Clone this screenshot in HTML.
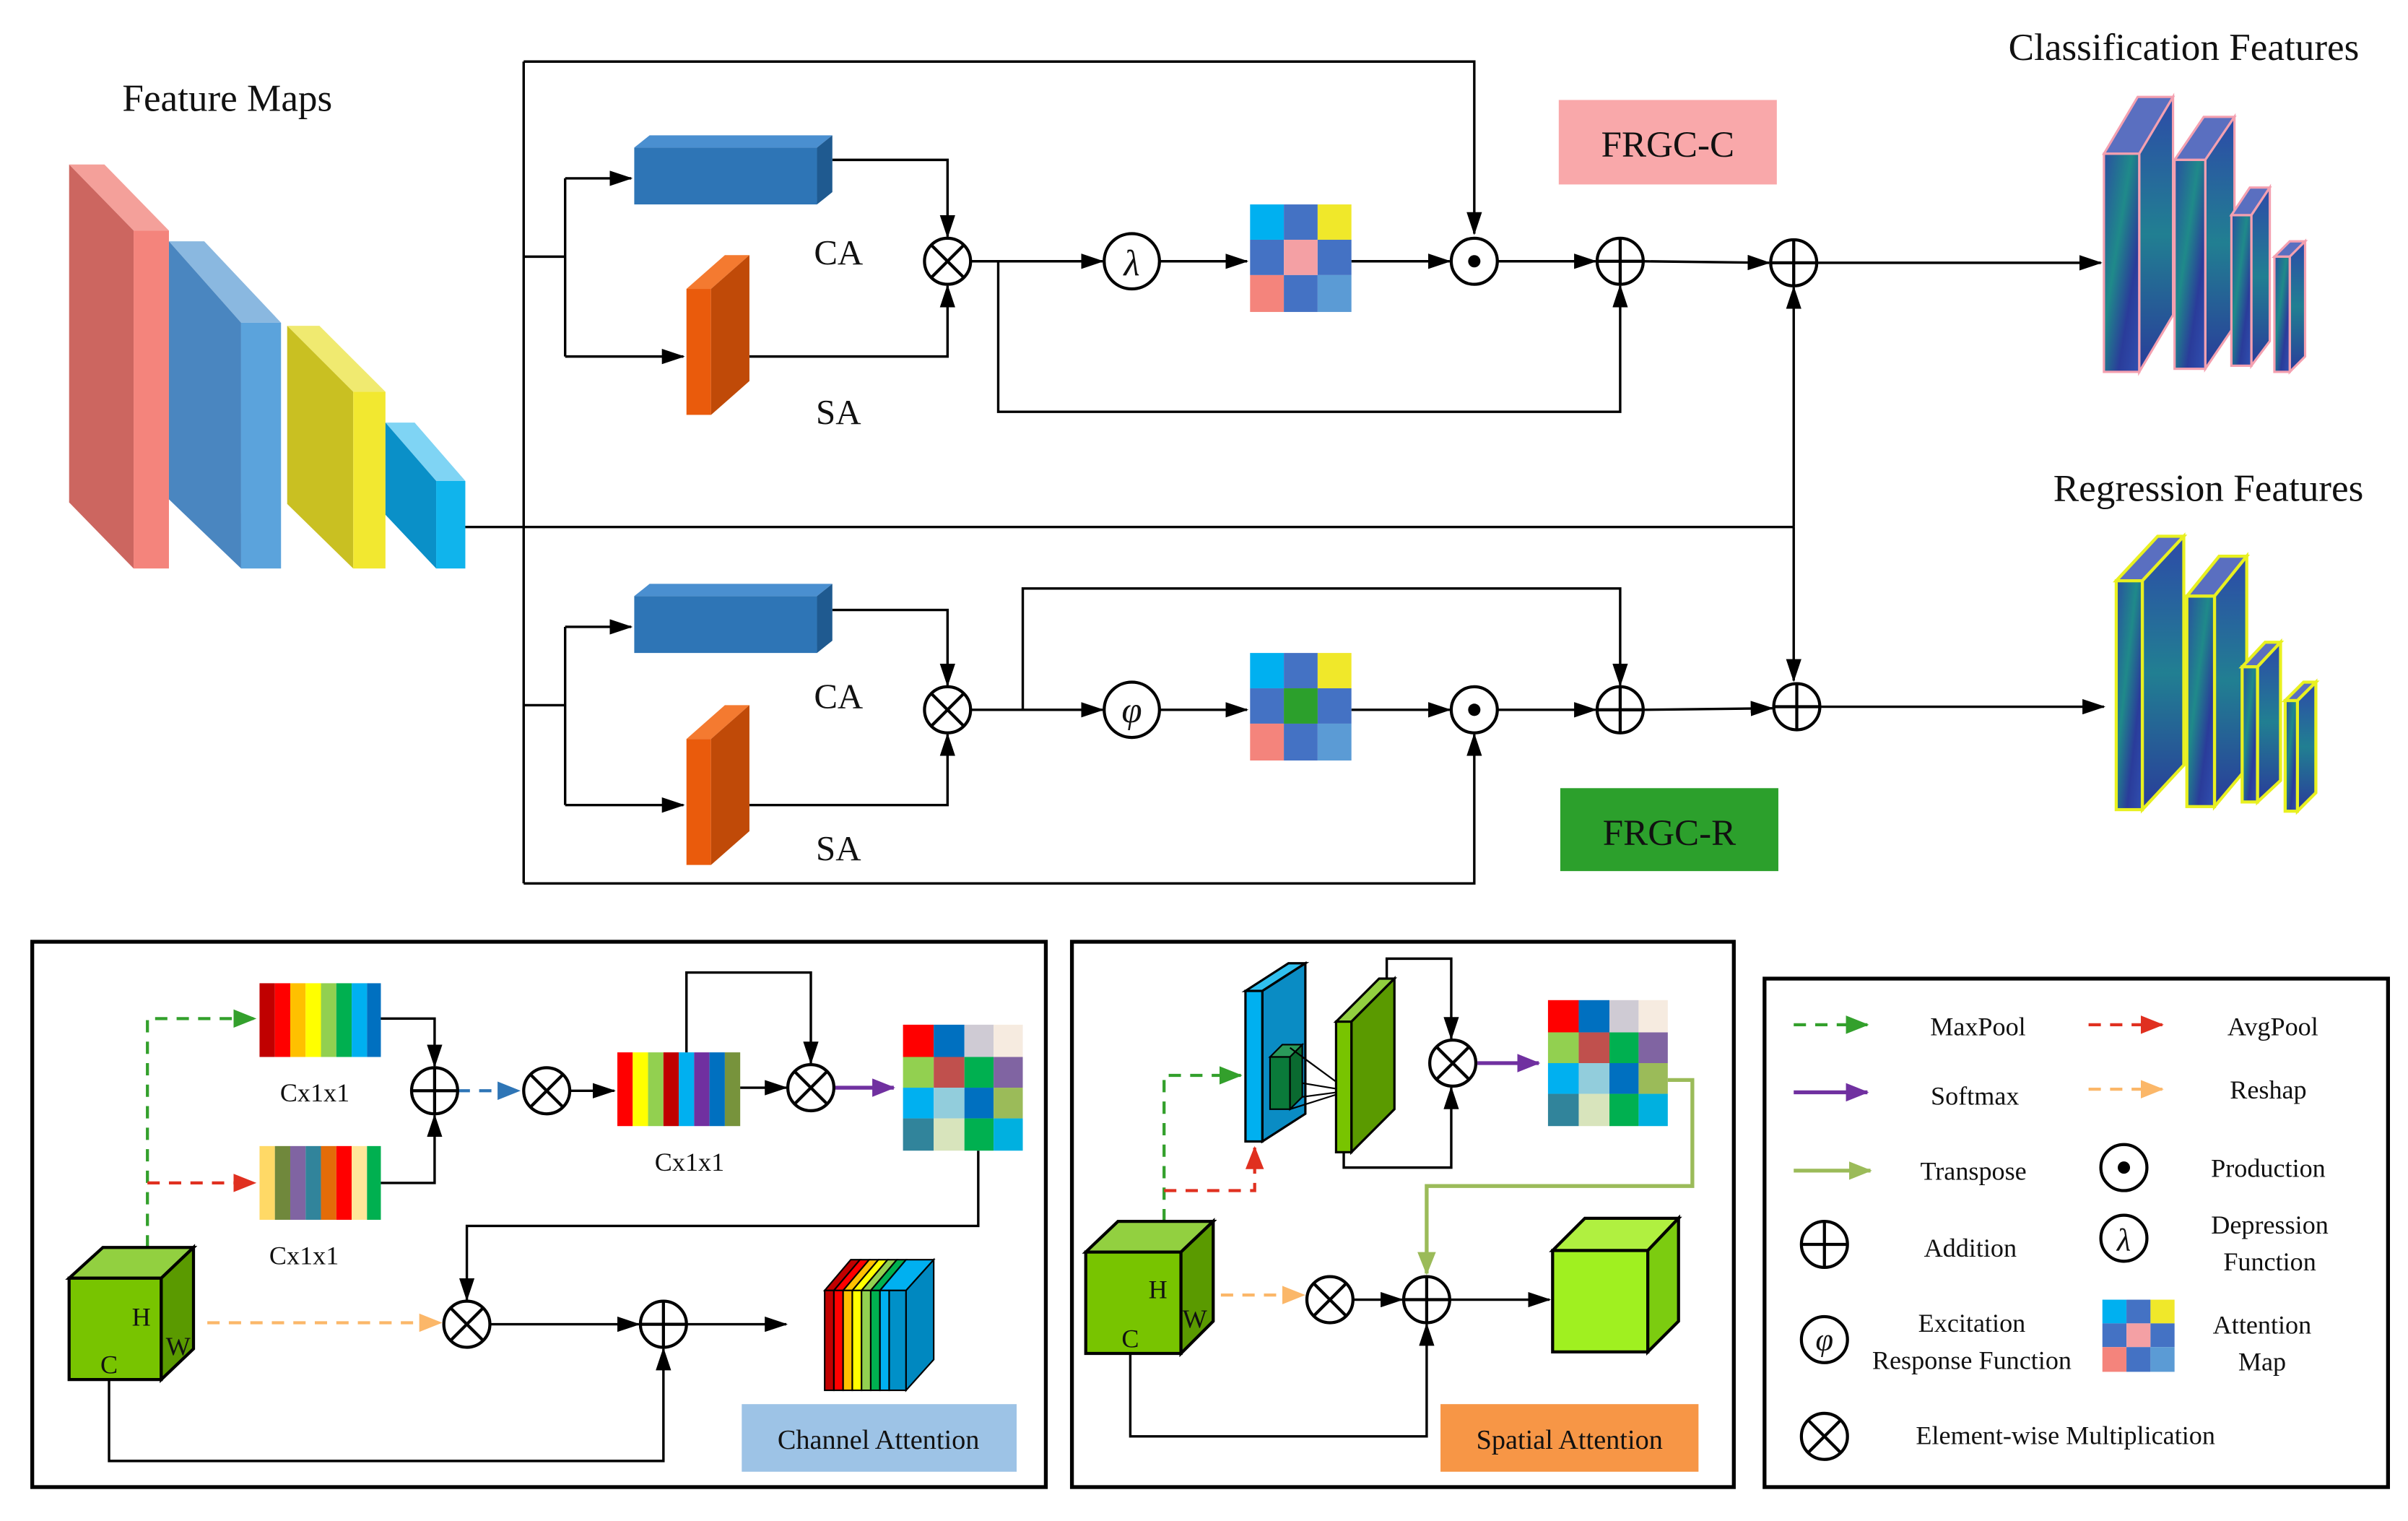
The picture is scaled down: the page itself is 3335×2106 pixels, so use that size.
<!DOCTYPE html>
<html><head><meta charset="utf-8"><style>html,body{margin:0;padding:0;background:#fff}svg{display:block}text{font-family:"Liberation Serif",serif;fill:#111}</style></head>
<body>
<svg width="3335" height="2106" viewBox="0 0 1568 990" xmlns="http://www.w3.org/2000/svg">
<defs>
<marker id="a" markerUnits="userSpaceOnUse" markerWidth="16" markerHeight="10" refX="14" refY="5" orient="auto"><path d="M0,0 L15,5 L0,10 z" fill="#000"/></marker>
<marker id="ag" markerUnits="userSpaceOnUse" markerWidth="16" markerHeight="12" refX="14" refY="6" orient="auto"><path d="M0,0 L15,6 L0,12 z" fill="#33a02c"/></marker>
<marker id="ar" markerUnits="userSpaceOnUse" markerWidth="16" markerHeight="12" refX="14" refY="6" orient="auto"><path d="M0,0 L15,6 L0,12 z" fill="#e03020"/></marker>
<marker id="ap" markerUnits="userSpaceOnUse" markerWidth="16" markerHeight="12" refX="14" refY="6" orient="auto"><path d="M0,0 L15,6 L0,12 z" fill="#7030a0"/></marker>
<marker id="ao" markerUnits="userSpaceOnUse" markerWidth="16" markerHeight="12" refX="14" refY="6" orient="auto"><path d="M0,0 L15,6 L0,12 z" fill="#fbb769"/></marker>
<marker id="ab" markerUnits="userSpaceOnUse" markerWidth="16" markerHeight="12" refX="14" refY="6" orient="auto"><path d="M0,0 L15,6 L0,12 z" fill="#2e75b6"/></marker>
<marker id="al" markerUnits="userSpaceOnUse" markerWidth="16" markerHeight="12" refX="14" refY="6" orient="auto"><path d="M0,0 L15,6 L0,12 z" fill="#9bbb59"/></marker>
<g id="ot"><circle r="15" fill="#fff" stroke="#000" stroke-width="2"/><path d="M-10.6,-10.6L10.6,10.6M-10.6,10.6L10.6,-10.6" stroke="#000" stroke-width="2"/></g>
<g id="op"><circle r="15" fill="#fff" stroke="#000" stroke-width="2"/><path d="M-15,0H15M0,-15V15" stroke="#000" stroke-width="2"/></g>
<g id="od"><circle r="15" fill="#fff" stroke="#000" stroke-width="2"/><circle r="4" fill="#000"/></g>
<g id="m3"><rect x="0" y="0" width="22" height="23" fill="#00b0f0"/><rect x="22" y="0" width="22" height="23" fill="#4472c4"/><rect x="44" y="0" width="22" height="23" fill="#f0e82a"/><rect x="0" y="23" width="22" height="23" fill="#4472c4"/><rect x="22" y="23" width="22" height="23" fill="#f4a0a4"/><rect x="44" y="23" width="22" height="23" fill="#4472c4"/><rect x="0" y="46" width="22" height="24" fill="#f4847c"/><rect x="22" y="46" width="22" height="24" fill="#4472c4"/><rect x="44" y="46" width="22" height="24" fill="#5b9bd5"/></g>
<g id="m3g"><use href="#m3"/><rect x="22" y="23" width="22" height="23" fill="#2ca02c"/></g>
<g id="m4"><rect x="0" y="0" width="20" height="21" fill="#ff0000"/><rect x="20" y="0" width="20" height="21" fill="#0070c0"/><rect x="40" y="0" width="19" height="21" fill="#cfcbd4"/><rect x="59" y="0" width="19" height="21" fill="#f6ebe0"/><rect x="0" y="21" width="20" height="20" fill="#92d050"/><rect x="20" y="21" width="20" height="20" fill="#c0504d"/><rect x="40" y="21" width="19" height="20" fill="#00b050"/><rect x="59" y="21" width="19" height="20" fill="#8064a2"/><rect x="0" y="41" width="20" height="20" fill="#00b0f0"/><rect x="20" y="41" width="20" height="20" fill="#92cddc"/><rect x="40" y="41" width="19" height="20" fill="#0070c0"/><rect x="59" y="41" width="19" height="20" fill="#9bbb59"/><rect x="0" y="61" width="20" height="21" fill="#31849b"/><rect x="20" y="61" width="20" height="21" fill="#d8e4bc"/><rect x="40" y="61" width="19" height="21" fill="#00b050"/><rect x="59" y="61" width="19" height="21" fill="#00b0e0"/></g>
<linearGradient id="fm" x1="0" y1="0" x2="1" y2="1"><stop offset="0" stop-color="#2a4fa0"/><stop offset="0.4" stop-color="#1f8a8a"/><stop offset="0.7" stop-color="#2a3c9a"/><stop offset="1" stop-color="#3050b0"/></linearGradient>
<linearGradient id="fm2" x1="0" y1="0" x2="0" y2="1"><stop offset="0" stop-color="#2d4aa8"/><stop offset="0.5" stop-color="#217f92"/><stop offset="1" stop-color="#2a3c9a"/></linearGradient>
</defs>

<text x="148" y="72" font-size="25" text-anchor="middle">Feature Maps</text>
<text x="1422" y="39" font-size="25" text-anchor="middle">Classification Features</text>
<text x="1438" y="326" font-size="25" text-anchor="middle">Regression Features</text>

<polygon points="45,107 68,107 110,150 87,150" fill="#f4a09a"/>
<polygon points="45,107 87,150 87,370 45,327" fill="#cc6660"/>
<rect x="87" y="150" width="23" height="220" fill="#f4847c"/>
<polygon points="110,157 133,157 183,210 157,210" fill="#8ab8e0"/>
<polygon points="110,157 157,210 157,370 110,325" fill="#4a86c0"/>
<rect x="157" y="210" width="26" height="160" fill="#5ba3dc"/>
<polygon points="187,212 208,212 251,255 230,255" fill="#f0ea70"/>
<polygon points="187,212 230,255 230,370 187,328" fill="#c9c022"/>
<rect x="230" y="255" width="21" height="115" fill="#f2e830"/>
<polygon points="251,275 270,275 303,313 284,313" fill="#7fd4f4"/>
<polygon points="251,275 284,313 284,370 251,335" fill="#0a90c8"/>
<rect x="284" y="313" width="19" height="57" fill="#10b4ec"/>

<g fill="none" stroke="#000" stroke-width="1.6">
<path d="M303,343H1168"/>
<path d="M341,40V575"/>
<path d="M341,40H960V152" marker-end="url(#a)"/>
<path d="M341,575H960V478" marker-end="url(#a)"/>
<path d="M341,167H368"/><path d="M368,116V232"/>
<path d="M368,116H411" marker-end="url(#a)"/>
<path d="M368,232H445" marker-end="url(#a)"/>
<path d="M542,104H617V154" marker-end="url(#a)"/>
<path d="M488,232H617V186" marker-end="url(#a)"/>
<path d="M632,170H718" marker-end="url(#a)"/>
<path d="M650,170V268H1055V186" marker-end="url(#a)"/>
<path d="M755,170H812" marker-end="url(#a)"/>
<path d="M880,170H944" marker-end="url(#a)"/>
<path d="M975,170H1039" marker-end="url(#a)"/>
<path d="M1070,170L1152,171" marker-end="url(#a)"/>
<path d="M1183,171H1368" marker-end="url(#a)"/>
<path d="M1168,343V187" marker-end="url(#a)"/>
<path d="M1168,343V443" marker-end="url(#a)"/>
<path d="M341,459H368"/><path d="M368,408V524"/>
<path d="M368,408H411" marker-end="url(#a)"/>
<path d="M368,524H445" marker-end="url(#a)"/>
<path d="M542,397H617V446" marker-end="url(#a)"/>
<path d="M488,524H617V478" marker-end="url(#a)"/>
<path d="M632,462H718" marker-end="url(#a)"/>
<path d="M666,462V383H1055V446" marker-end="url(#a)"/>
<path d="M755,462H812" marker-end="url(#a)"/>
<path d="M880,462H944" marker-end="url(#a)"/>
<path d="M975,462H1039" marker-end="url(#a)"/>
<path d="M1070,462L1154,461" marker-end="url(#a)"/>
<path d="M1185,460H1370" marker-end="url(#a)"/>
</g>

<polygon points="413,96 423,88 542,88 532,96" fill="#4a8fd0"/>
<rect x="413" y="96" width="119" height="37" fill="#2e75b6"/>
<polygon points="532,96 542,88 542,125 532,133" fill="#1f5a90"/>
<polygon points="447,188 472,166 488,166 463,188" fill="#f47a30"/>
<rect x="447" y="188" width="16" height="82" fill="#ea5b0c"/>
<polygon points="463,188 488,166 488,248 463,270" fill="#c04a08"/>
<text x="546" y="172" font-size="23" text-anchor="middle">CA</text>
<text x="546" y="276" font-size="23" text-anchor="middle">SA</text>
<polygon points="413,388 423,380 542,380 532,388" fill="#4a8fd0"/>
<rect x="413" y="388" width="119" height="37" fill="#2e75b6"/>
<polygon points="532,388 542,380 542,417 532,425" fill="#1f5a90"/>
<polygon points="447,481 472,459 488,459 463,481" fill="#f47a30"/>
<rect x="447" y="481" width="16" height="82" fill="#ea5b0c"/>
<polygon points="463,481 488,459 488,541 463,563" fill="#c04a08"/>
<text x="546" y="461" font-size="23" text-anchor="middle">CA</text>
<text x="546" y="560" font-size="23" text-anchor="middle">SA</text>

<use href="#ot" x="617" y="170"/><use href="#ot" x="617" y="462"/>
<circle cx="737" cy="170" r="18" fill="#fff" stroke="#000" stroke-width="2"/>
<text x="737" y="179" font-size="24" font-style="italic" text-anchor="middle">λ</text>
<circle cx="737" cy="462" r="18" fill="#fff" stroke="#000" stroke-width="2"/>
<text x="737" y="470" font-size="24" font-style="italic" text-anchor="middle">φ</text>
<use href="#m3" x="814" y="133"/><use href="#m3g" x="814" y="425"/>
<use href="#od" x="960" y="170"/><use href="#od" x="960" y="462"/>
<use href="#op" x="1055" y="170"/><use href="#op" x="1055" y="462"/>
<use href="#op" x="1168" y="171"/><use href="#op" x="1170" y="460"/>

<rect x="1015" y="65" width="142" height="55" fill="#f9a8aa"/>
<text x="1086" y="102" font-size="24" text-anchor="middle">FRGC-C</text>
<rect x="1016" y="513" width="142" height="54" fill="#2ca02c"/>
<text x="1087" y="550" font-size="24" text-anchor="middle">FRGC-R</text>

<g stroke="#f4a0b0" stroke-width="1.5">
<polygon points="1370,100 1393,100 1415,63 1392,63" fill="#5a6fc0"/><polygon points="1393,100 1415,63 1415,205 1393,242" fill="url(#fm2)"/><rect x="1370" y="100" width="23" height="142" fill="url(#fm)"/>
<polygon points="1416,104 1436,104 1455,76 1435,76" fill="#5a6fc0"/><polygon points="1436,104 1455,76 1455,212 1436,240" fill="url(#fm2)"/><rect x="1416" y="104" width="20" height="136" fill="url(#fm)"/>
<polygon points="1453,140 1466,140 1478,122 1465,122" fill="#5a6fc0"/><polygon points="1466,140 1478,122 1478,222 1466,238" fill="url(#fm2)"/><rect x="1453" y="140" width="13" height="98" fill="url(#fm)"/>
<polygon points="1481,167 1491,167 1501,157 1491,157" fill="#5a6fc0"/><polygon points="1491,167 1501,157 1501,232 1491,242" fill="url(#fm2)"/><rect x="1481" y="167" width="10" height="75" fill="url(#fm)"/>
</g>
<g stroke="#e8f020" stroke-width="2">
<polygon points="1378,378 1395,378 1422,349 1405,349" fill="#5a6fc0"/><polygon points="1395,378 1422,349 1422,498 1395,527" fill="url(#fm2)"/><rect x="1378" y="378" width="17" height="149" fill="url(#fm)"/>
<polygon points="1424,388 1442,388 1463,362 1445,362" fill="#5a6fc0"/><polygon points="1442,388 1463,362 1463,500 1442,525" fill="url(#fm2)"/><rect x="1424" y="388" width="18" height="137" fill="url(#fm)"/>
<polygon points="1460,434 1470,434 1485,418 1475,418" fill="#5a6fc0"/><polygon points="1470,434 1485,418 1485,508 1470,522" fill="url(#fm2)"/><rect x="1460" y="434" width="10" height="88" fill="url(#fm)"/>
<polygon points="1488,456 1496,456 1508,444 1500,444" fill="#5a6fc0"/><polygon points="1496,456 1508,444 1508,516 1496,528" fill="url(#fm2)"/><rect x="1488" y="456" width="8" height="72" fill="url(#fm)"/>
</g>

<rect x="21" y="613" width="660" height="355" fill="none" stroke="#000" stroke-width="2.5"/>
<g fill="none" stroke-width="2" stroke-dasharray="8,6">
<path d="M96,812V663H166" stroke="#33a02c" marker-end="url(#ag)"/>
<path d="M96,770H166" stroke="#e03020" marker-end="url(#ar)"/>
<path d="M298,710H338" stroke="#2e75b6" marker-end="url(#ab)"/>
<path d="M135,861H287" stroke="#fbb769" marker-end="url(#ao)"/>
</g>
<g>
<rect x="169" y="640" width="10" height="48" fill="#c00000"/><rect x="179" y="640" width="10" height="48" fill="#ff0000"/><rect x="189" y="640" width="10" height="48" fill="#ffc000"/><rect x="199" y="640" width="10" height="48" fill="#ffff00"/><rect x="209" y="640" width="10" height="48" fill="#92d050"/><rect x="219" y="640" width="10" height="48" fill="#00b050"/><rect x="229" y="640" width="10" height="48" fill="#00b0f0"/><rect x="239" y="640" width="9" height="48" fill="#0070c0"/>
<rect x="169" y="746" width="10" height="48" fill="#ffd966"/><rect x="179" y="746" width="10" height="48" fill="#70883c"/><rect x="189" y="746" width="10" height="48" fill="#8064a2"/><rect x="199" y="746" width="10" height="48" fill="#31849b"/><rect x="209" y="746" width="10" height="48" fill="#e36c09"/><rect x="219" y="746" width="10" height="48" fill="#ff0000"/><rect x="229" y="746" width="10" height="48" fill="#ffe699"/><rect x="239" y="746" width="9" height="48" fill="#00b050"/>
<rect x="402" y="685" width="10" height="48" fill="#ff0000"/><rect x="412" y="685" width="10" height="48" fill="#ffff00"/><rect x="422" y="685" width="10" height="48" fill="#92d050"/><rect x="432" y="685" width="10" height="48" fill="#c00000"/><rect x="442" y="685" width="10" height="48" fill="#00b0f0"/><rect x="452" y="685" width="10" height="48" fill="#7030a0"/><rect x="462" y="685" width="10" height="48" fill="#0070c0"/><rect x="472" y="685" width="10" height="48" fill="#77933c"/>
</g>
<text x="205" y="717" font-size="17" text-anchor="middle">Cx1x1</text>
<text x="198" y="823" font-size="17" text-anchor="middle">Cx1x1</text>
<text x="449" y="762" font-size="17" text-anchor="middle">Cx1x1</text>
<g fill="none" stroke="#000" stroke-width="1.6">
<path d="M248,663H283V694" marker-end="url(#a)"/>
<path d="M248,770H283V726" marker-end="url(#a)"/>
<path d="M371,710H400" marker-end="url(#a)"/>
<path d="M447,685V633H528V692" marker-end="url(#a)"/>
<path d="M482,708H512" marker-end="url(#a)"/>
<path d="M637,749V798H304V846" marker-end="url(#a)"/>
<path d="M319,862H416" marker-end="url(#a)"/>
<path d="M447,862H512" marker-end="url(#a)"/>
<path d="M71,898V951H432V878" marker-end="url(#a)"/>
</g>
<path d="M543,708H582" stroke="#7030a0" stroke-width="2.5" marker-end="url(#ap)"/>
<use href="#op" x="283" y="710"/><use href="#ot" x="356" y="710"/><use href="#ot" x="528" y="708"/>
<use href="#ot" x="304" y="862"/><use href="#op" x="432" y="862"/>
<use href="#m4" x="588" y="667"/>
<polygon points="45,832 67,812 126,812 105,832" fill="#92d040" stroke="#000" stroke-width="2"/>
<rect x="45" y="832" width="60" height="66" fill="#78c400" stroke="#000" stroke-width="2"/>
<polygon points="105,832 126,812 126,878 105,898" fill="#5a9a00" stroke="#000" stroke-width="2"/>
<text x="92" y="863" font-size="17" text-anchor="middle">H</text>
<text x="116" y="882" font-size="17" text-anchor="middle">W</text>
<text x="71" y="894" font-size="17" text-anchor="middle">C</text>
<g stroke="#000" stroke-width="1">
<polygon points="537,840 554,820 560,820 543,840" fill="#c00000"/>
<polygon points="543,840 560,820 566,820 549,840" fill="#ff0000"/>
<polygon points="549,840 566,820 572,820 555,840" fill="#ffc000"/>
<polygon points="555,840 572,820 578,820 561,840" fill="#ffff00"/>
<polygon points="561,840 578,820 584,820 567,840" fill="#92d050"/>
<polygon points="567,840 584,820 590,820 573,840" fill="#00b050"/>
<polygon points="573,840 590,820 608,820 590,840" fill="#00b0f0"/>
<rect x="537" y="840" width="6" height="65" fill="#c00000"/><rect x="543" y="840" width="6" height="65" fill="#ff0000"/><rect x="549" y="840" width="6" height="65" fill="#ffc000"/><rect x="555" y="840" width="6" height="65" fill="#ffff00"/><rect x="561" y="840" width="6" height="65" fill="#92d050"/><rect x="567" y="840" width="6" height="65" fill="#00b050"/><rect x="573" y="840" width="6" height="65" fill="#00b0f0"/><rect x="579" y="840" width="11" height="65" fill="#0090c8"/>
<polygon points="590,840 608,820 608,885 590,905" fill="#0088c0"/>
</g>
<rect x="483" y="914" width="179" height="44" fill="#9dc3e6"/>
<text x="572" y="943" font-size="18" text-anchor="middle">Channel Attention</text>

<rect x="698" y="613" width="431" height="355" fill="none" stroke="#000" stroke-width="2.5"/>
<g fill="none" stroke-width="2" stroke-dasharray="8,6">
<path d="M758,795V700H808" stroke="#33a02c" marker-end="url(#ag)"/>
<path d="M758,775H817V747" stroke="#e03020" marker-end="url(#ar)"/>
<path d="M795,843H849" stroke="#fbb769" marker-end="url(#ao)"/>
</g>
<polygon points="811,645 839,627 850,627 822,645" fill="#30c0f0" stroke="#000" stroke-width="1.5"/>
<polygon points="822,645 850,627 850,725 822,743" fill="#0a8cc4" stroke="#000" stroke-width="1.5"/>
<rect x="811" y="645" width="11" height="98" fill="#00b0f0" stroke="#000" stroke-width="1.5"/>
<polygon points="827,688 835,680 848,680 840,688" fill="#2a9a5a" stroke="#000"/>
<rect x="827" y="688" width="13" height="34" fill="#0a7a3a" stroke="#000"/>
<polygon points="840,688 848,680 848,714 840,722" fill="#0a6a30" stroke="#000"/>
<g stroke="#000" stroke-width="1"><path d="M840,682L878,710M848,688L878,710M848,705L878,710M840,722L878,710M848,714L878,710"/></g>
<polygon points="870,665 898,637 908,637 880,665" fill="#92d040" stroke="#000" stroke-width="1.5"/>
<polygon points="880,665 908,637 908,722 880,750" fill="#5a9a00" stroke="#000" stroke-width="1.5"/>
<rect x="870" y="665" width="10" height="85" fill="#78c400" stroke="#000" stroke-width="1.5"/>
<g fill="none" stroke="#000" stroke-width="1.6">
<path d="M903,637V624H945V676" marker-end="url(#a)"/>
<path d="M875,750V760H945V708" marker-end="url(#a)"/>
<path d="M881,846H913" marker-end="url(#a)"/>
<path d="M944,846H1009" marker-end="url(#a)"/>
<path d="M736,881V935H929V862" marker-end="url(#a)"/>
</g>
<path d="M962,692H1002" stroke="#7030a0" stroke-width="2.5" marker-end="url(#ap)"/>
<path d="M1086,703H1102V772H929V829" fill="none" stroke="#9bbb59" stroke-width="2.5" marker-end="url(#al)"/>
<use href="#ot" x="946" y="692"/><use href="#ot" x="866" y="846"/><use href="#op" x="929" y="846"/>
<use href="#m4" x="1008" y="651"/>
<polygon points="707,815 728,795 790,795 769,815" fill="#92d040" stroke="#000" stroke-width="2"/>
<rect x="707" y="815" width="62" height="66" fill="#78c400" stroke="#000" stroke-width="2"/>
<polygon points="769,815 790,795 790,860 769,881" fill="#5a9a00" stroke="#000" stroke-width="2"/>
<text x="754" y="845" font-size="17" text-anchor="middle">H</text>
<text x="778" y="864" font-size="17" text-anchor="middle">W</text>
<text x="736" y="877" font-size="17" text-anchor="middle">C</text>
<polygon points="1011,814 1032,793 1093,793 1073,814" fill="#b0f040" stroke="#000" stroke-width="2"/>
<rect x="1011" y="814" width="62" height="66" fill="#a0f020" stroke="#000" stroke-width="2"/>
<polygon points="1073,814 1093,793 1093,860 1073,880" fill="#7ccc10" stroke="#000" stroke-width="2"/>
<rect x="938" y="914" width="168" height="44" fill="#f79646"/>
<text x="1022" y="943" font-size="18" text-anchor="middle">Spatial Attention</text>

<rect x="1149" y="637" width="406" height="331" fill="none" stroke="#000" stroke-width="2.5"/>
<g fill="none" stroke-width="2">
<path d="M1168,667H1216" stroke="#33a02c" stroke-dasharray="8,6" marker-end="url(#ag)"/>
<path d="M1360,667H1408" stroke="#e03020" stroke-dasharray="8,6" marker-end="url(#ar)"/>
<path d="M1168,711H1216" stroke="#7030a0" stroke-width="2.5" marker-end="url(#ap)"/>
<path d="M1360,709H1408" stroke="#fbb769" stroke-dasharray="8,6" marker-end="url(#ao)"/>
<path d="M1168,762H1218" stroke="#9bbb59" stroke-width="2.5" marker-end="url(#al)"/>
</g>
<g font-size="17" text-anchor="middle">
<text x="1288" y="674">MaxPool</text>
<text x="1480" y="674">AvgPool</text>
<text x="1286" y="719">Softmax</text>
<text x="1477" y="715">Reshap</text>
<text x="1285" y="768">Transpose</text>
<text x="1477" y="766">Production</text>
<text x="1283" y="818">Addition</text>
<text x="1478" y="803">Depression</text>
<text x="1478" y="827">Function</text>
<text x="1284" y="867">Excitation</text>
<text x="1284" y="891">Response Function</text>
<text x="1473" y="868">Attention</text>
<text x="1473" y="892">Map</text>
<text x="1345" y="940">Element-wise Multiplication</text>
</g>
<use href="#od" x="1383" y="760"/>
<use href="#op" x="1188" y="810"/>
<circle cx="1383" cy="806" r="15" fill="#fff" stroke="#000" stroke-width="2"/>
<text x="1383" y="814" font-size="21" font-style="italic" text-anchor="middle">λ</text>
<circle cx="1188" cy="872" r="15" fill="#fff" stroke="#000" stroke-width="2"/>
<text x="1188" y="879" font-size="21" font-style="italic" text-anchor="middle">φ</text>
<g transform="translate(1369,846) scale(0.712,0.671)"><use href="#m3"/></g>
<use href="#ot" x="1188" y="935"/>
</svg>
</body></html>
